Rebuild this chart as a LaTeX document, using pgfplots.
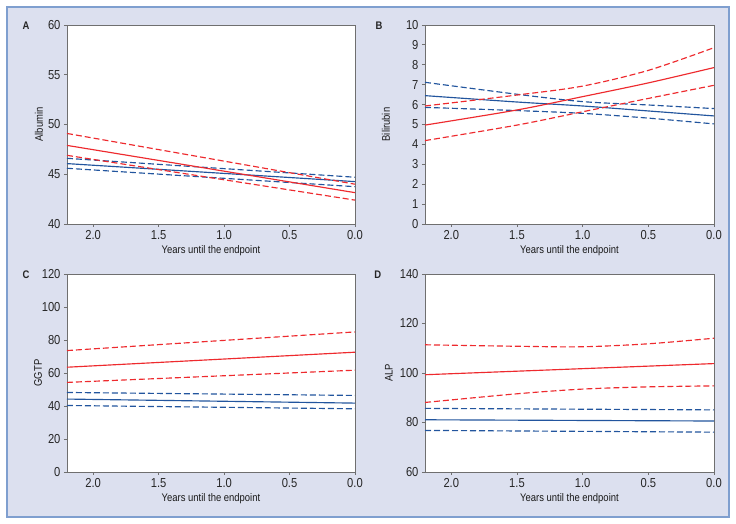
\documentclass[border=0pt]{standalone}
\usepackage{fontspec}
\setmainfont{Liberation Sans}[FakeStretch=0.86]
\usepackage{pgfplots}
\pgfplotsset{compat=1.18}
\definecolor{bg}{HTML}{DCE0EF}
\definecolor{framec}{HTML}{7F9FCF}
\definecolor{myred}{HTML}{EE2A2E}
\definecolor{myblue}{HTML}{22559E}
\definecolor{axgray}{HTML}{6F6F6F}
\pgfplotsset{
  panel/.style={
    scale only axis, width=288pt, height=199pt,
    anchor=south west, clip=false,
    x dir=reverse, xmin=0, xmax=2.2,
    xtick={0,0.5,1,1.5,2},
    x tick label style={/pgf/number format/fixed, /pgf/number format/fixed zerofill, /pgf/number format/precision=1},
    /pgf/number format/assume math mode=true,
    tick label style={font=\fontsize{13}{13}\selectfont, text=black!85},
    label style={font=\fontsize{11}{11}\selectfont, text=black!90},
    tick align=outside, xtick pos=bottom, ytick pos=left, major tick length=3pt,
    axis line style={axgray, line width=0.9pt},
    tick style={axgray, line width=0.8pt},
    axis background/.style={fill=white},
    xlabel={Years until the endpoint},
    xlabel style={at={(axis description cs:0.5,-0.136)}, anchor=center},
    every axis plot/.append style={line width=1.15pt, mark=none},
  },
  rs/.style={myred, solid},
  rd/.style={myred, dash pattern=on 6pt off 3pt},
  bs/.style={myblue, solid},
  bd/.style={myblue, dash pattern=on 6pt off 3pt},
}
\newcommand{\plab}[3]{\node[font=\bfseries\fontsize{11}{11}\selectfont, text=black!85] at (axis description cs:#1,#2) {#3};}
\begin{document}
\begin{tikzpicture}
\fill[white] (0pt,0pt) rectangle (736pt,524pt);
\draw[framec, fill=bg, line width=1.5pt] (7pt,7pt) rectangle (729pt,517pt);

% Panel A
\begin{axis}[panel, at={(67pt,300pt)}, width=288pt,
  ymin=40, ymax=60, ytick={40,45,50,55,60}, ylabel={Albumin},
  ylabel style={at={(axis description cs:-0.097,0.5)}, anchor=center}]
\addplot[bd] coordinates {(2.2,46.6) (0,44.7)};
\addplot[bd] coordinates {(2.2,45.6) (0,43.75)};
\addplot[bs] coordinates {(2.2,46.07) (0,44.26)};
\addplot[rd] coordinates {(2.2,49.1) (0,44.0)};
\addplot[rd] coordinates {(2.2,46.9) (0,42.4)};
\addplot[rs] coordinates {(2.2,47.9) (0,43.15)};
\plab{-0.142}{0.995}{A}
\end{axis}

% Panel B
\begin{axis}[panel, at={(425pt,300pt)}, width=289pt,
  ymin=0, ymax=10, ytick={0,1,...,10}, ylabel={Bilirubin},
  ylabel style={at={(axis description cs:-0.135,0.5)}, anchor=center}]
\addplot[bd, smooth] coordinates {(2.2,7.12) (1.5,6.52) (1.0,6.15) (0.5,5.98) (0,5.80)};
\addplot[bd, smooth] coordinates {(2.2,5.86) (1.5,5.70) (1.0,5.56) (0.5,5.32) (0,5.03)};
\addplot[bs, smooth] coordinates {(2.2,6.45) (1.5,6.13) (1.0,5.93) (0.5,5.68) (0,5.43)};
\addplot[rd, smooth] coordinates {(2.2,5.93) (1.5,6.48) (1.0,6.93) (0.5,7.72) (0,8.86)};
\addplot[rd, smooth] coordinates {(2.2,4.19) (1.5,4.97) (1.0,5.64) (0.5,6.31) (0,6.97)};
\addplot[rs, smooth] coordinates {(2.2,4.97) (1.5,5.73) (1.0,6.40) (0.5,7.09) (0,7.86)};
\plab{-0.159}{0.995}{B}
\end{axis}

% Panel C
\begin{axis}[panel, at={(67pt,52pt)}, width=288pt, height=198pt,
  ymin=0, ymax=120, ytick={0,20,...,120}, ylabel={GGTP},
  ylabel style={at={(axis description cs:-0.1,0.5)}, anchor=center}]
\addplot[bd] coordinates {(2.2,48.2) (0,46.4)};
\addplot[bd] coordinates {(2.2,40.3) (0,38.3)};
\addplot[bs] coordinates {(2.2,44.2) (0,41.75)};
\addplot[rd] coordinates {(2.2,73.6) (0,84.9)};
\addplot[rd] coordinates {(2.2,54.3) (0,61.7)};
\addplot[rs] coordinates {(2.2,63.5) (0,72.6)};
\plab{-0.142}{0.995}{C}
\end{axis}

% Panel D
\begin{axis}[panel, at={(425pt,52pt)}, width=289pt, height=198pt,
  ymin=60, ymax=140, ytick={60,80,...,140}, ylabel={ALP},
  ylabel style={at={(axis description cs:-0.125,0.5)}, anchor=center}]
\addplot[bd] coordinates {(2.2,85.7) (0,85.1)};
\addplot[bd] coordinates {(2.2,76.8) (0,76.1)};
\addplot[bs] coordinates {(2.2,81.1) (0,80.6)};
\addplot[rd, smooth] coordinates {(2.2,111.4) (1.5,110.8) (1.0,110.6) (0.5,111.8) (0,114.05)};
\addplot[rd, smooth] coordinates {(2.2,88.1) (1.5,91.6) (1.0,93.5) (0.5,94.4) (0,94.8)};
\addplot[rs] coordinates {(2.2,99.3) (0,103.8)};
\plab{-0.163}{0.995}{D}
\end{axis}
\end{tikzpicture}
\end{document}
